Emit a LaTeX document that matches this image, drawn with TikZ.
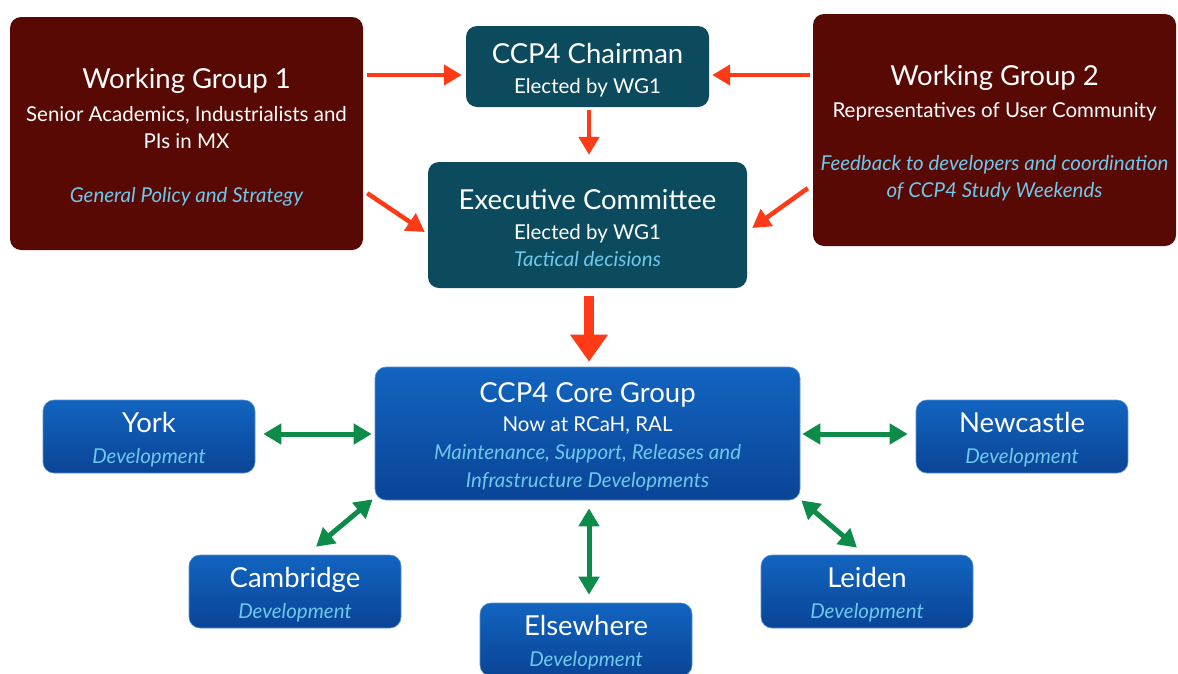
\documentclass[tikz,border=0pt]{standalone}
\usepackage{fontspec}
\setmainfont{Lato}
\usetikzlibrary{arrows.meta,calc}
\definecolor{wgred}{RGB}{88,9,4}
\definecolor{ccpteal}{RGB}{12,74,94}
\definecolor{bluetop}{RGB}{18,100,192}
\definecolor{bluebot}{RGB}{10,68,150}
\definecolor{italblue}{RGB}{110,200,236}
\definecolor{arrred}{RGB}{255,58,22}
\definecolor{arrgreen}{RGB}{12,140,72}
\newcommand\ttl[1]{{\fontsize{27.5}{27}\selectfont\rule{0pt}{27pt}#1}}
\newcommand\itl[1]{{\color{italblue}\itshape #1}}
\begin{document}
\begin{tikzpicture}[x=1pt,y=-1pt,
 box/.style={rounded corners=11pt, align=center, text=white, inner sep=0pt, font=\fontsize{20.5}{27}\selectfont},
 wgbox/.style={box, fill=wgred},
 tealbox/.style={box, fill=ccpteal},
 bluebox/.style={box, top color=bluetop, bottom color=bluebot, draw=bluetop!70!white, line width=0.6pt},
 devbox/.style={bluebox, minimum width=212pt, minimum height=73pt},
 redarrow/.style={draw=arrred, line width=4.5pt, -{Triangle[length=18pt,width=20pt]}},
 bigred/.style={draw=arrred, line width=10pt, -{Triangle[length=27pt,width=36pt]}},
 greenarrow/.style={draw=arrgreen, line width=5pt, {Triangle[length=18pt,width=20pt]}-{Triangle[length=18pt,width=20pt]}}]
\useasboundingbox[fill=white] (0,0) rectangle (1178,673);

\node[wgbox, minimum width=353pt, minimum height=233pt] (wg1) at (186.5,133.5)
  {\ttl{Working Group 1}\\[6pt] Senior Academics, Industrialists and\\ PIs in MX\\[27pt] \itl{General Policy and Strategy}};
\node[wgbox, minimum width=363pt, minimum height=232pt] (wg2) at (994.5,130)
  {\ttl{Working Group 2}\\[5pt] Representatives of User Community\\[26pt] \itl{Feedback to developers and coordination}\\ \itl{of CCP4 Study Weekends}};
\node[tealbox, minimum width=243pt, minimum height=81pt] (chair) at (587.5,66.5)
  {\ttl{CCP4 Chairman}\\[3pt] Elected by WG1};
\node[tealbox, minimum width=319pt, minimum height=126pt] (exec) at (587.5,225)
  {\ttl{Executive Committee}\\[3pt] Elected by WG1\\ \itl{Tactical decisions}};
\node[bluebox, minimum width=425pt, minimum height=133pt] (core) at (587.5,433.5)
  {\ttl{CCP4 Core Group}\\[2pt] Now at RCaH, RAL\\[1pt] \itl{Maintenance, Support, Releases and}\\[1pt] \itl{Infrastructure Developments}};
\node[devbox] (york) at (149,436.5) {\ttl{York}\\[4pt] \itl{Development}};
\node[devbox] (newc) at (1022,436.5) {\ttl{Newcastle}\\[4pt] \itl{Development}};
\node[devbox] (camb) at (295,591.5) {\ttl{Cambridge}\\[4pt] \itl{Development}};
\node[devbox] (leid) at (867,591.5) {\ttl{Leiden}\\[4pt] \itl{Development}};
\node[devbox] (else) at (586,639.5) {\ttl{Elsewhere}\\[4pt] \itl{Development}};

\draw[redarrow] ($(wg1.east)+(4,-58.5)$) -- ($(chair.west)+(-4,8.5)$);
\draw[redarrow] ($(wg2.west)+(-3,-55)$) -- ($(chair.east)+(3,8.5)$);
\draw[redarrow] ($(chair.south)+(1.5,3)$) -- ($(exec.north)+(1.5,-7)$);
\draw[redarrow] ($(wg1.south east)+(4,-57)$) -- ($(exec.west)+(-3,7)$);
\draw[redarrow] ($(wg2.south west)+(-5,-58)$) -- ($(exec.east)+(5,3)$);
\draw[bigred] ($(exec.south)+(1.5,8)$) -- ($(core.north)+(1.5,-5)$);

\draw[greenarrow] ($(york.east)+(8,-2.5)$) -- ($(core.west)+(-3,0.5)$);
\draw[greenarrow] ($(core.east)+(2,0.5)$) -- ($(newc.west)+(-8,-2.5)$);
\draw[greenarrow] ($(camb.north)+(21,-8)$) -- ($(core.south west)+(-2,-1)$);
\draw[greenarrow] ($(core.south east)+(1,0)$) -- ($(leid.north)+(-10,-7)$);
\draw[greenarrow] ($(core.south)+(1.5,8)$) -- ($(else.north)+(3,-8)$);
\end{tikzpicture}
\end{document}
